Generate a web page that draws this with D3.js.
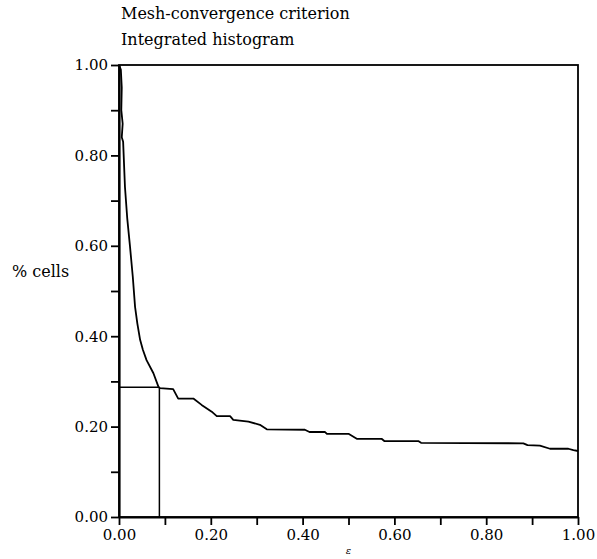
<!DOCTYPE html>
<html>
<head>
<meta charset="utf-8">
<script src="https://cdn.jsdelivr.net/npm/d3@7"></script>
<style>
  body { margin: 0; background: #fff; }
  text { font-family: "DejaVu Serif", "Liberation Serif", serif; fill: #000; }
</style>
</head>
<body>
<div id="chart"></div>
<script>
// integrated histogram: epsilon vs fraction of cells
const epsValues = [0, 0.004, 0.006, 0.005, 0.008, 0.006, 0.009, 0.013, 0.018, 0.024, 0.030, 0.035,
  0.040, 0.046, 0.052, 0.060, 0.075, 0.086, 0.089, 0.118, 0.129, 0.162, 0.180, 0.202, 0.213,
  0.242, 0.249, 0.282, 0.307, 0.322, 0.405, 0.415, 0.449, 0.453, 0.500, 0.518, 0.572, 0.578,
  0.652, 0.658, 0.881, 0.890, 0.917, 0.939, 0.979, 0.990, 1.0];
const cellValues = [1.0, 0.99, 0.95, 0.90, 0.87, 0.84, 0.83, 0.73, 0.66, 0.598, 0.532, 0.465,
  0.428, 0.392, 0.37, 0.347, 0.318, 0.288, 0.285, 0.283, 0.262, 0.262, 0.248, 0.233, 0.223,
  0.223, 0.215, 0.211, 0.204, 0.194, 0.193, 0.188, 0.188, 0.184, 0.184, 0.173, 0.173, 0.168,
  0.168, 0.164, 0.163, 0.159, 0.158, 0.151, 0.151, 0.148, 0.146];

// cursor marking the criterion
const markerEps = 0.088;
const markerCells = 0.287;

const xTicks = [0, 0.1, 0.2, 0.3, 0.4, 0.5, 0.6, 0.7, 0.8, 0.9, 1.0];
const yTicks = [0, 0.1, 0.2, 0.3, 0.4, 0.5, 0.6, 0.7, 0.8, 0.9, 1.0];
const titleLines = ["Mesh-convergence criterion", "Integrated histogram"];

var margin = {top: 65, right: 19, bottom: 42, left: 119},
    width = 597 - margin.left - margin.right,
    height = 559 - margin.top - margin.bottom;

var svg = d3.select("#chart")
  .append("svg")
  .attr("width", 597)
  .attr("height", 559)
  .append("g")
  .attr("transform", "translate(" + margin.left + "," + margin.top + ")");

var x = d3.scaleLinear().domain([0, 1]).range([0, width]);
var y = d3.scaleLinear().domain([0, 1]).range([height, 0]);

var fmt = function(d) {
  var k = Math.round(d * 10);
  return k % 2 === 0 ? d.toFixed(2) : "";
};

// frame (top and right)
svg.append("rect")
  .attr("x", 0).attr("y", 0)
  .attr("width", width).attr("height", height)
  .attr("fill", "none")
  .attr("stroke", "#000")
  .attr("stroke-width", 1.8);

var xAxis = svg.append("g")
  .attr("transform", "translate(0," + height + ")")
  .call(d3.axisBottom(x).tickValues(xTicks).tickFormat(fmt).tickSize(8).tickSizeOuter(0).tickPadding(4));

var yAxis = svg.append("g")
  .call(d3.axisLeft(y).tickValues(yTicks).tickFormat(fmt).tickSize(8).tickSizeOuter(0).tickPadding(3));

[xAxis, yAxis].forEach(function(a) {
  a.attr("font-family", null);
  a.select(".domain").attr("stroke-width", 2.2);
  a.selectAll(".tick line").attr("stroke-width", 1.8);
  a.selectAll(".tick text")
    .style("font-size", "15px")
    .attr("fill", "#000");
});

// curve
var pts = epsValues.map(function(e, i) { return {eps: e, cells: cellValues[i]}; });
svg.append("path")
  .datum(pts)
  .attr("fill", "none")
  .attr("stroke", "#000")
  .attr("stroke-width", 1.8)
  .attr("stroke-linejoin", "round")
  .attr("d", d3.line()
    .x(function(d) { return x(d.eps); })
    .y(function(d) { return y(d.cells); }));

// cursor lines
svg.append("line")
  .attr("x1", x(0)).attr("x2", x(markerEps))
  .attr("y1", y(markerCells)).attr("y2", y(markerCells))
  .attr("stroke", "#000").attr("stroke-width", 1.5);
svg.append("line")
  .attr("x1", x(markerEps)).attr("x2", x(markerEps))
  .attr("y1", y(0)).attr("y2", y(markerCells))
  .attr("stroke", "#000").attr("stroke-width", 1.5);

// titles
svg.selectAll(".title")
  .data(titleLines)
  .enter()
  .append("text")
  .attr("class", "title")
  .attr("x", 2)
  .attr("y", function(d, i) { return -46 + i * 26; })
  .style("font-size", "16px")
  .text(function(d) { return d; });

// y label
svg.append("text")
  .attr("x", -107)
  .attr("y", y(0.53))
  .style("font-size", "16px")
  .text("% cells");

// x label
svg.append("text")
  .attr("x", x(0.5))
  .attr("y", height + 37)
  .style("font-size", "10px")
  .style("font-style", "italic")
  .style("text-anchor", "middle")
  .text("ε");
</script>
</body>
</html>
